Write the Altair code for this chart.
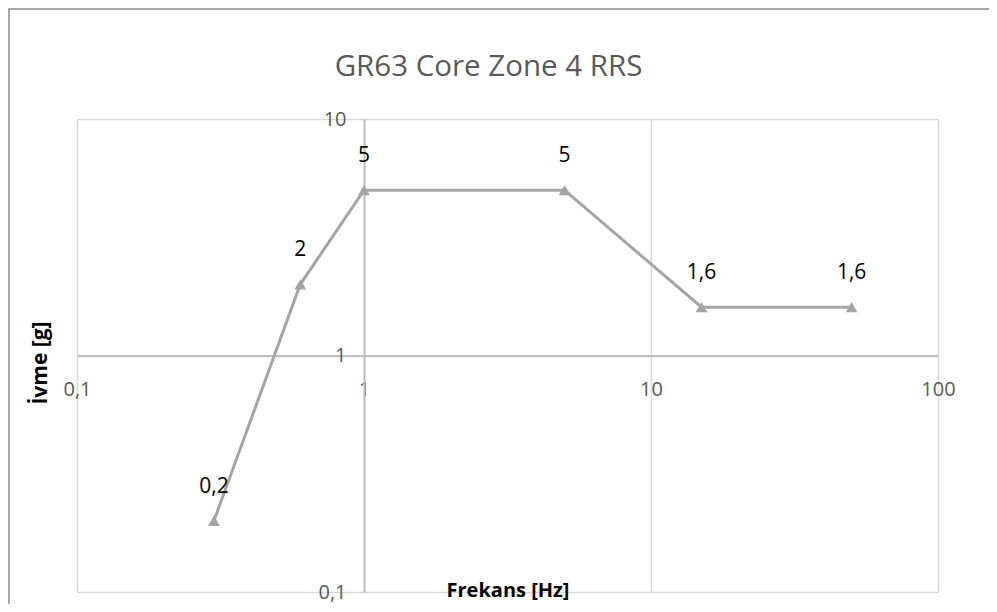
import altair as alt
import pandas as pd

# data
freq = [0.3, 0.6, 1, 5, 15, 50]
accel = [0.2, 2, 5, 5, 1.6, 1.6]
x_ticks = [0.1, 1, 10, 100]
y_ticks = [0.1, 1, 10]
title_text = "GR63 Core Zone 4 RRS"

df = pd.DataFrame({"f": freq, "a": accel})

W, H = 861, 473
FONT = "Open Sans"
LABEL_EXPR = "replace(format(datum.value, '~g'), '.', ',')"

x_enc = alt.X(
    "f:Q",
    scale=alt.Scale(type="log", domain=[0.1, 100]),
    axis=alt.Axis(
        values=x_ticks, title="Frekans [Hz]", offset=-H / 2,
        grid=True, gridColor="#d9d9d9", gridWidth=1.5,
        domainColor="#bfbfbf", domainWidth=2, ticks=False,
        labelPadding=24, labelFont=FONT, labelFontSize=20, labelColor="#595959",
        labelExpr=LABEL_EXPR, labelFlush=False, labelOverlap=False,
        titleFont=FONT, titleFontSize=20, titleFontWeight="bold", titleColor="black",
        titleY=H / 2 - 2, titleBaseline="middle",
    ),
)
y_enc = alt.Y(
    "a:Q",
    scale=alt.Scale(type="log", domain=[0.1, 10]),
    axis=alt.Axis(
        values=y_ticks, title="İvme [g]", offset=-W / 3,
        grid=True, gridColor="#d9d9d9", gridWidth=1.5,
        domainColor="#bfbfbf", domainWidth=2, ticks=False,
        labelPadding=18, labelFont=FONT, labelFontSize=20, labelColor="#595959",
        labelExpr=LABEL_EXPR, labelFlush=False, labelOverlap=False,
        titleFont=FONT, titleFontSize=21, titleFontWeight="bold", titleColor="black",
        titleX=-324, titleY=H / 2 + 7, titleAngle=270, titleBaseline="middle",
    ),
)

base = alt.Chart(df).encode(x=x_enc, y=y_enc)

line = base.mark_line(color="#a5a5a5", strokeWidth=3)
pts = base.mark_point(shape="triangle-up", filled=True, size=140, color="#a5a5a5", opacity=1)
txt = base.transform_calculate(
    lab="replace(format(datum.a, '~g'), '.', ',')"
).mark_text(font=FONT, fontSize=21, color="black", dy=-34, baseline="middle").encode(
    text="lab:N"
)

deco = alt.Chart(alt.Data(values=[{}]))
frame = deco.mark_rect(
    fill=None, stroke="#8c8c8c", strokeWidth=1.5, clip=False
).encode(
    x=alt.value(-68), y=alt.value(-110), x2=alt.value(1200), y2=alt.value(1200)
)
title = deco.mark_text(
    font=FONT, fontSize=29.5, color="#595959", baseline="alphabetic", align="center"
).encode(
    x=alt.value(W / 2 - 19), y=alt.value(-43), text=alt.value(title_text)
)

chart = alt.layer(frame, title, line, pts, txt).properties(
    width=W, height=H,
    autosize=alt.AutoSizeParams(type="none"),
    padding={"left": 69, "top": 111, "right": 51, "bottom": 12},
).configure_view(stroke=None)

chart.save("out.html", embed_options={"renderer": "svg", "actions": False})
